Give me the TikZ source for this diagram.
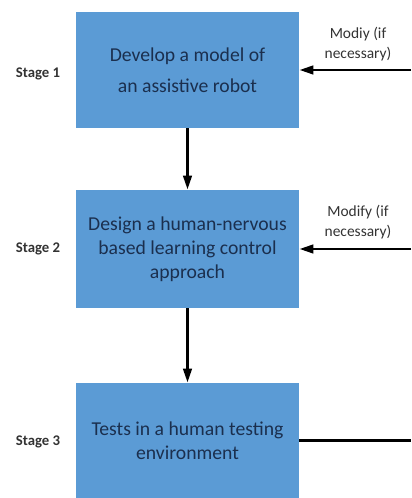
\documentclass[tikz,border=0pt]{standalone}
\usepackage{fontspec}
\setmainfont{Carlito}
\usetikzlibrary{arrows.meta}
\definecolor{boxblue}{HTML}{5B9BD5}
\definecolor{boxtext}{HTML}{1B2F4E}
\definecolor{stagegray}{HTML}{333333}
\begin{document}
\begin{tikzpicture}[
    stagebox/.style={rectangle,fill=boxblue,draw=none,minimum width=5.575cm,align=center,
      text=boxtext,font=\fontsize{14}{17}\selectfont},
    stagelabel/.style={text=stagegray,font=\fontsize{10.5}{12}\selectfont\bfseries},
    modlabel/.style={text=stagegray,align=center,font=\fontsize{11}{14}\selectfont},
    arr/.style={line width=2pt,-{Triangle[length=10pt,width=6pt]}}]
            \useasboundingbox (0,0) rectangle (10.275,12.45);
            % Stages
            \node[stagebox,minimum height=2.9cm,font=\fontsize{14}{22}\selectfont] (dev) at (4.6875,10.7) {Develop a model of\\an assistive robot};
            \node[stagebox,minimum height=2.95cm] (design) at (4.6875,6.225) {Design a human-nervous\\based learning control\\approach};
            \node[stagebox,minimum height=2.875cm] (tests) at (4.6875,1.4375) {Tests in a human testing\\environment};
            \node[stagelabel] (s1) at (0.95,10.6) {Stage 1};
            \node[stagelabel] (s2) at (0.95,6.225) {Stage 2};
            \node[stagelabel] (s3) at (0.95,1.4) {Stage 3};
            % Flow between stages
            \draw[arr] (dev) -- (design);
            \draw[arr] (design) -- (tests);
            % Feedback from the right
            \coordinate (r1) at (10.275,10.7);
            \coordinate (r2) at (10.275,6.225);
            \coordinate (r3) at (10.275,1.4375);
            \draw[arr] (r1) -- (dev);
            \draw[arr] (r2) -- (design);
            \draw[line width=2pt] (tests) -- (r3);
            \node[modlabel] (m1) at (8.95,11.35) {Modiy (if\\necessary)};
            \node[modlabel] (m2) at (8.95,6.9) {Modify (if\\necessary)};
          \end{tikzpicture}
\end{document}
